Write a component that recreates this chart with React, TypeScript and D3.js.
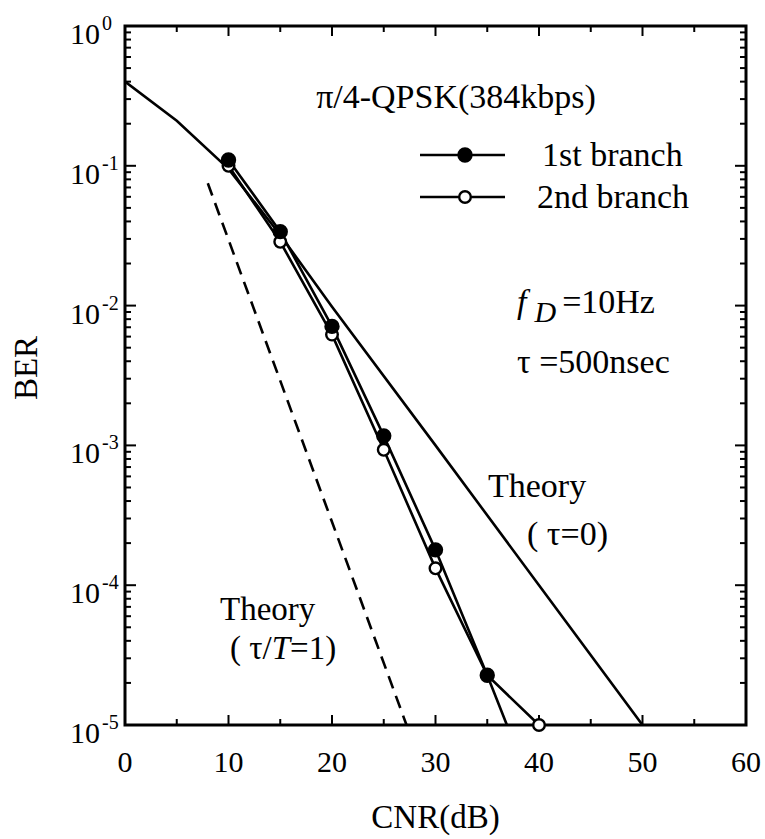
import React from "react";
import * as d3 from "d3";

const xTickValues = [0, 10, 20, 30, 40, 50, 60];
const xMinorValues = [5, 15, 25, 35, 45, 55];
const yExponents = [0, -1, -2, -3, -4, -5];

const theoryCnr = [0, 5, 10, 15, 20, 30, 40, 50];
const theoryBer = [0.4, 0.21, 0.095, 0.032, 0.0098, 0.001, 0.0001, 0.00001];

const theoryDelayCnr = [8, 27.2];
const theoryDelayBer = [0.075, 0.00001];

const branch1Cnr = [10, 15, 20, 25, 30, 35, 36.9];
const branch1Ber = [0.11, 0.0338, 0.0071, 0.00117, 0.000179, 0.0000227, 0.00001];
const branch1Marked = [true, true, true, true, true, true, false];

const branch2Cnr = [10, 15, 20, 25, 30, 35, 40];
const branch2Ber = [0.1, 0.0286, 0.0062, 0.00093, 0.000132, 0.0000227, 0.00001];
const branch2Marked = [true, true, true, true, true, false, true];

const W = 765;
const H = 839;
const L = 125, R = 746, T = 26, B = 725;
const FONT = "Liberation Serif, Times New Roman, DejaVu Serif, serif";
const ts = { fontFamily: FONT };

export default function App() {
  const x = d3.scaleLinear().domain([0, 60]).range([L, R]);
  const y = d3.scaleLog().domain([1e-5, 1]).range([B, T]);
  const line = d3
    .line<[number, number]>()
    .x((d) => x(d[0]))
    .y((d) => y(d[1]));
  const zip = (a: number[], b: number[]) => a.map((v, i) => [v, b[i]] as [number, number]);

  const yMinor: number[] = [];
  for (let e = -5; e < 0; e++) {
    for (let k = 2; k <= 9; k++) yMinor.push(k * Math.pow(10, e));
  }

  const sw = 2.6;
  const frame = 3;

  return (
    <svg
      width={W}
      height={H}
      style={{ position: "absolute", left: 0, top: 0, background: "#fff", fontFamily: FONT }}
    >
      <rect x={0} y={0} width={W} height={H} fill="#fff" />
      <defs>
        <clipPath id="plotclip">
          <rect x={L} y={T} width={R - L} height={B - T} />
        </clipPath>
      </defs>

      {/* ticks */}
      <g stroke="#000" strokeWidth={2}>
        {xTickValues.map((v) => (
          <g key={"xt" + v}>
            <line x1={x(v)} x2={x(v)} y1={B} y2={B - 10} />
            <line x1={x(v)} x2={x(v)} y1={T} y2={T + 10} />
          </g>
        ))}
        {xMinorValues.map((v) => (
          <g key={"xm" + v}>
            <line x1={x(v)} x2={x(v)} y1={B} y2={B - 6} />
            <line x1={x(v)} x2={x(v)} y1={T} y2={T + 6} />
          </g>
        ))}
        {yExponents.map((e) => (
          <g key={"yt" + e}>
            <line x1={L} x2={L + 11} y1={y(Math.pow(10, e))} y2={y(Math.pow(10, e))} />
            <line x1={R} x2={R - 11} y1={y(Math.pow(10, e))} y2={y(Math.pow(10, e))} />
          </g>
        ))}
        {yMinor.map((v, i) => (
          <g key={"ym" + i}>
            <line x1={L} x2={L + 6} y1={y(v)} y2={y(v)} />
            <line x1={R} x2={R - 6} y1={y(v)} y2={y(v)} />
          </g>
        ))}
      </g>

      {/* frame */}
      <rect x={L} y={T} width={R - L} height={B - T} fill="none" stroke="#000" strokeWidth={frame} />

      {/* tick labels */}
      {xTickValues.map((v) => (
        <text key={"xl" + v} style={ts} x={x(v)} y={B + 47} fontSize={30} textAnchor="middle" fill="#000">
          {v}
        </text>
      ))}
      {yExponents.map((e) => (
        <g key={"yl" + e}>
          <text style={ts} x={100} y={y(Math.pow(10, e)) + 18} fontSize={30} textAnchor="end" fill="#000">
            10
          </text>
          <text style={ts} x={102} y={y(Math.pow(10, e)) + 4} fontSize={20} textAnchor="start" fill="#000">
            {e === 0 ? "0" : "-" + Math.abs(e)}
          </text>
        </g>
      ))}

      {/* axis titles */}
      <text style={ts} x={(L + R) / 2} y={828} fontSize={33} textAnchor="middle" fill="#000">
        CNR(dB)
      </text>
      <text style={ts} transform="translate(37,368) rotate(-90)" fontSize={33} textAnchor="middle" fill="#000">
        BER
      </text>

      {/* data */}
      <g clipPath="url(#plotclip)" fill="none" stroke="#000" strokeWidth={sw}>
        <path d={line(zip(theoryCnr, theoryBer)) || ""} />
        <path d={line(zip(theoryDelayCnr, theoryDelayBer)) || ""} strokeDasharray="13,8" />
        <path d={line(zip(branch2Cnr, branch2Ber)) || ""} />
        <path d={line(zip(branch1Cnr, branch1Ber)) || ""} />
      </g>
      <g stroke="#000" strokeWidth={2.4}>
        {branch2Cnr.map((c, i) =>
          branch2Marked[i] ? (
            <circle key={"b2" + i} cx={x(c)} cy={y(branch2Ber[i])} r={5.8} fill="#fff" />
          ) : null
        )}
        {branch1Cnr.map((c, i) =>
          branch1Marked[i] ? (
            <circle key={"b1" + i} cx={x(c)} cy={y(branch1Ber[i])} r={6.5} fill="#000" />
          ) : null
        )}
      </g>

      {/* title */}
      <text style={ts} x={456} y={108} fontSize={34} textAnchor="middle" fill="#000">
        π/4-QPSK(384kbps)
      </text>

      {/* legend */}
      <g stroke="#000" strokeWidth={sw}>
        <line x1={420} x2={505} y1={155} y2={155} />
        <circle cx={465} cy={155} r={6.5} fill="#000" strokeWidth={2.4} />
        <line x1={420} x2={505} y1={197} y2={197} />
        <circle cx={465} cy={197} r={5.8} fill="#fff" strokeWidth={2.4} />
      </g>
      <text style={ts} x={542} y={166} fontSize={34} fill="#000">
        1st branch
      </text>
      <text style={ts} x={537} y={208} fontSize={34} fill="#000">
        2nd branch
      </text>

      {/* annotations */}
      <text style={ts} x={517} y={313} fontSize={34} fill="#000">
        <tspan fontStyle="italic">f</tspan>
        <tspan fontStyle="italic" fontSize={30} dx={8} dy={9}>D</tspan>
        <tspan dx={6} dy={-9}>=10Hz</tspan>
      </text>
      <text style={ts} x={517} y={373} fontSize={34} fill="#000">
        τ =500nsec
      </text>

      <text style={ts} x={488} y={497} fontSize={34} fill="#000">
        Theory
      </text>
      <text style={ts} x={527} y={545} fontSize={34} fill="#000">
        (  τ=0)
      </text>

      <text style={ts} x={220} y={620} fontSize={33} fill="#000">
        Theory
      </text>
      <text style={ts} x={230} y={659} fontSize={33} fill="#000">
        <tspan>( τ/</tspan>
        <tspan fontStyle="italic">T</tspan>
        <tspan>=1)</tspan>
      </text>
    </svg>
  );
}
